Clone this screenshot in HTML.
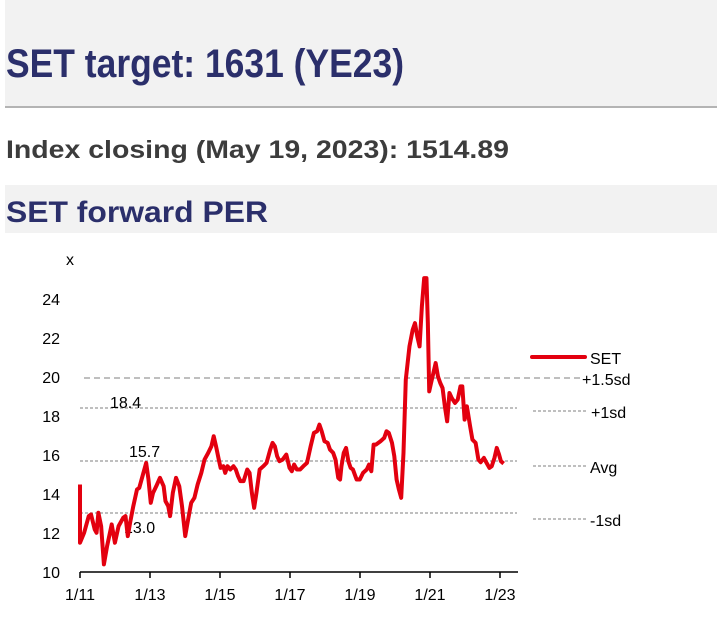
<!DOCTYPE html>
<html><head><meta charset="utf-8"><style>
html,body{margin:0;padding:0;background:#fff;width:717px;height:618px;overflow:hidden}
svg{display:block}
text{font-family:"Liberation Sans",Arial,sans-serif}
</style></head><body>
<svg width="717" height="618" viewBox="0 0 717 618" xmlns="http://www.w3.org/2000/svg">
<rect x="5" y="0" width="712" height="106" fill="#f2f2f2"/>
<rect x="5" y="106" width="712" height="2" fill="#b4b4b4"/>
<text x="6" y="77" font-size="40" font-weight="bold" fill="#2b2f6b" textLength="398" lengthAdjust="spacingAndGlyphs">SET target: 1631 (YE23)</text>
<text x="6" y="158" font-size="25" font-weight="bold" fill="#3c3c3c" textLength="503" lengthAdjust="spacingAndGlyphs">Index closing (May 19, 2023): 1514.89</text>
<rect x="5" y="185" width="712" height="48" fill="#f2f2f2"/>
<text x="6" y="222" font-size="30" font-weight="bold" fill="#2b2f6b" textLength="262" lengthAdjust="spacingAndGlyphs">SET forward PER</text>

<g font-size="16" fill="#000">
<text x="66" y="265">x</text>
<g text-anchor="end">
<text x="60" y="305">24</text><text x="60" y="344">22</text><text x="60" y="383">20</text><text x="60" y="422">18</text>
<text x="60" y="461">16</text><text x="60" y="500">14</text><text x="60" y="539">12</text><text x="60" y="578">10</text>
</g>
<g text-anchor="middle">
<text x="80" y="600">1/11</text><text x="150" y="600">1/13</text><text x="220" y="600">1/15</text><text x="290" y="600">1/17</text>
<text x="360" y="600">1/19</text><text x="430" y="600">1/21</text><text x="500" y="600">1/23</text>
</g>
</g>
<g stroke="#000" stroke-width="1.5">
<line x1="80" y1="572" x2="518" y2="572"/>
<line x1="80" y1="572" x2="80" y2="578"/><line x1="150" y1="572" x2="150" y2="578"/><line x1="220" y1="572" x2="220" y2="578"/>
<line x1="290" y1="572" x2="290" y2="578"/><line x1="360" y1="572" x2="360" y2="578"/><line x1="430" y1="572" x2="430" y2="578"/><line x1="500" y1="572" x2="500" y2="578"/>
</g>
<g stroke="#999" stroke-width="1.3" fill="none">
<line x1="84" y1="378" x2="583" y2="378" stroke-dasharray="6,4"/>
<line x1="80" y1="408" x2="517" y2="408" stroke-dasharray="3,2"/>
<line x1="80" y1="461" x2="517" y2="461" stroke-dasharray="3,2"/>
<line x1="80" y1="513" x2="517" y2="513" stroke-dasharray="3,2"/>
<line x1="533" y1="411" x2="586" y2="411" stroke-dasharray="3,2"/>
<line x1="533" y1="466" x2="586" y2="466" stroke-dasharray="3,2"/>
<line x1="533" y1="519" x2="586" y2="519" stroke-dasharray="3,2"/>
</g>
<g font-size="16" fill="#000">
<text x="110" y="408">18.4</text>
<text x="129" y="457">15.7</text>
<text x="124" y="533">13.0</text>
<text x="590" y="364">SET</text>
<text x="582" y="385">+1.5sd</text>
<text x="591" y="418">+1sd</text>
<text x="590" y="473">Avg</text>
<text x="590" y="526">-1sd</text>
</g>
<line x1="532" y1="357" x2="585" y2="357" stroke="#e3000f" stroke-width="4" stroke-linecap="round"/>
<g transform="matrix(0.4595 0 0 0.3328 -0.87 239.9)">
<polyline fill="none" stroke="#e3000f" stroke-width="4" vector-effect="non-scaling-stroke" stroke-linejoin="round" points="176,735 176,910 185,880 195,830 200,825 208,870 212,880 216,820 222,860 228,975 235,920 245,855 252,910 260,860 270,835 275,830 280,890 285,850 292,800 300,750 305,745 312,710 320,670 325,720 330,790 335,760 342,740 350,715 358,740 362,785 368,800 372,830 378,760 385,715 392,740 398,800 405,890 410,850 418,790 425,775 432,735 440,700 447,660 455,640 462,620 467,590 472,620 478,660 482,685 488,680 492,700 497,680 503,690 510,680 515,690 520,710 525,725 532,725 540,690 545,700 550,760 555,805 560,760 567,690 575,680 582,670 590,630 595,610 600,620 605,650 610,665 617,660 625,645 632,685 637,695 642,675 648,690 655,690 662,680 670,670 678,620 685,580 692,575 697,555 702,575 708,605 715,610 720,630 727,640 732,660 738,715 742,720 745,680 750,640 755,625 760,665 765,685 770,690 778,720 785,720 792,700 800,690 805,675 810,695 815,615 820,615 830,605 838,595 843,575 848,580 855,610 860,650 865,720 870,750 875,775 880,640 885,420 893,320 900,270 905,250 910,290 915,320 920,200 925,115 930,115 933,250 936,455 940,430 945,400 950,370 955,410 960,430 965,445 970,500 975,545 980,460 985,475 992,490 998,480 1004,440 1008,440 1013,540 1018,500 1025,560 1030,600 1037,610 1043,660 1048,668 1055,655 1060,668 1067,685 1072,680 1078,655 1083,625 1088,645 1092,665 1098,672"/>
</g>
</svg>
</body></html>
